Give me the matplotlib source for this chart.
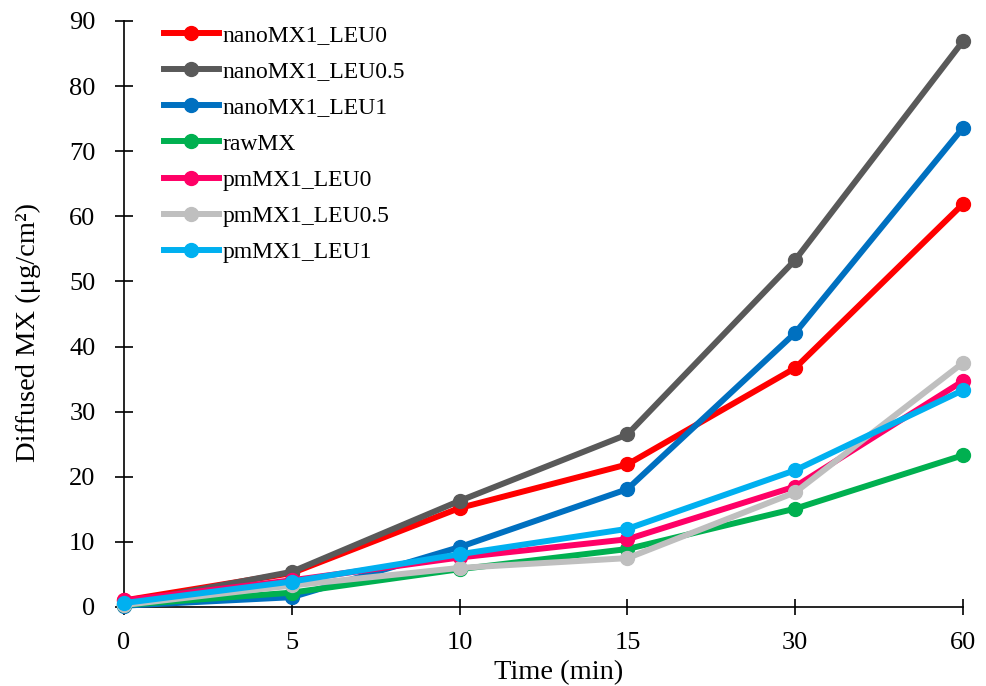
import matplotlib
matplotlib.use("Agg")
import matplotlib.pyplot as plt
import numpy as np

plt.rcParams['font.family'] = ['Liberation Serif', 'DejaVu Serif']

times = ["0", "5", "10", "15", "30", "60"]

nanoMX1_LEU0 = [1.0, 5.2, 15.2, 21.9, 36.7, 61.9]
nanoMX1_LEU05 = [0.5, 5.4, 16.3, 26.5, 53.3, 86.9]
nanoMX1_LEU1 = [0.2, 1.5, 9.2, 18.1, 42.1, 73.6]
rawMX = [0.3, 2.2, 5.8, 8.9, 15.1, 23.3]
pmMX1_LEU0 = [1.0, 4.1, 7.6, 10.4, 18.5, 34.7]
pmMX1_LEU05 = [0.3, 3.3, 6.0, 7.5, 17.6, 37.5]
pmMX1_LEU1 = [0.6, 3.9, 8.1, 12.0, 21.0, 33.3]

series = [
    ("nanoMX1_LEU0", nanoMX1_LEU0, "#FF0000"),
    ("nanoMX1_LEU0.5", nanoMX1_LEU05, "#595959"),
    ("nanoMX1_LEU1", nanoMX1_LEU1, "#0070C0"),
    ("rawMX", rawMX, "#00B050"),
    ("pmMX1_LEU0", pmMX1_LEU0, "#FF0066"),
    ("pmMX1_LEU0.5", pmMX1_LEU05, "#BFBFBF"),
    ("pmMX1_LEU1", pmMX1_LEU1, "#00B0F0"),
]

fig = plt.figure(figsize=(9.87, 6.86), dpi=100)
ax = fig.add_axes([0.1256, 0.1152, 0.8501, 0.8542])

x = np.arange(len(times))
for i, (name, vals, col) in enumerate(series):
    ax.plot(x, vals, color=col, lw=4.3, marker='o', ms=10, label=name,
            zorder=3 + i, clip_on=False)

ax.set_xlim(0, len(times) - 1)
ax.set_ylim(0, 90)
ax.set_xticks(x)
ax.set_xticklabels(times)
ax.set_yticks(np.arange(0, 91, 10))

for s in ['top', 'right']:
    ax.spines[s].set_visible(False)
for s in ['left', 'bottom']:
    ax.spines[s].set_linewidth(1.2)

ax.tick_params(axis='y', direction='inout', length=13, width=1.2, labelsize=19, pad=14)
ax.tick_params(axis='x', direction='inout', length=12, width=1.2, labelsize=19, pad=12)

ax.set_xlabel("Time (min)", fontsize=20.5)
ax.xaxis.set_label_coords(0.518, -0.09)
ax.set_ylabel("Diffused MX (μg/cm²)", fontsize=20.5)
ax.yaxis.set_label_coords(-0.099, 0.469)

ax.legend(loc='upper left', bbox_to_anchor=(0.036, 1.01), frameon=False, fontsize=17,
          handlelength=2.33, handletextpad=0.17, labelspacing=0.62, borderaxespad=0)

fig.savefig("out.png", dpi=100)
